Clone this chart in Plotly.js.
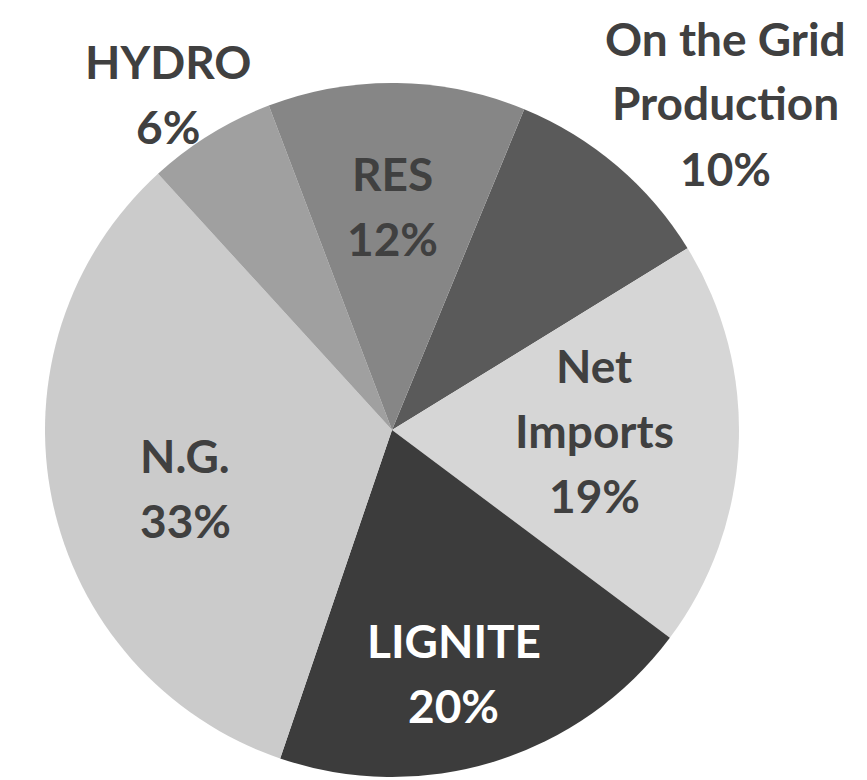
<!DOCTYPE html>
<html>
<head>
<meta charset="utf-8">
<script src="https://cdn.plot.ly/plotly-3.0.1.min.js"></script>
<style>html,body{margin:0;padding:0;background:#fff;}#chart{width:867px;height:780px;}</style>
</head>
<body>
<div id="chart"></div>
<script>
// Data (clockwise from the RES / On the Grid boundary)
const categories = ["On the Grid<br>Production", "Net<br>Imports", "LIGNITE", "N.G.", "HYDRO", "RES"];
const shares = [10, 19, 20, 33, 6, 12];
const percentLabels = ["10%", "19%", "20%", "33%", "6%", "12%"];

// Styles
const sliceColors = ["#5a5a5a", "#d6d6d6", "#3c3c3c", "#cbcbcb", "#a0a0a0", "#868686"];
const textColors = ["#404040", "#404040", "#ffffff", "#404040", "#404040", "#404040"];
// label block centres in pixels (layout only)
const labelPx = [[725, 103], [594, 430], [454, 673], [185, 488], [168, 94], [392, 206]];
const lineGap = 65;

const W = 867, H = 780;
const annotations = [];
categories.forEach((c, i) => {
  const lines = c.split("<br>").concat([percentLabels[i]]);
  const n = lines.length;
  lines.forEach((t, k) => {
    const py = labelPx[i][1] + (k - (n - 1) / 2) * lineGap;
    annotations.push({
      text: t,
      x: labelPx[i][0] / W, y: 1 - py / H,
      xref: "paper", yref: "paper", xanchor: "center", yanchor: "middle",
      showarrow: false, align: "center",
      font: {family: "Lato, 'Open Sans', sans-serif", size: 46, color: textColors[i], weight: 700}
    });
  });
});

const trace = {
  type: "pie",
  labels: categories,
  values: shares,
  sort: false,
  direction: "clockwise",
  rotation: 22.4,
  marker: {colors: sliceColors, line: {width: 0}},
  textinfo: "none",
  hoverinfo: "skip",
  showlegend: false,
  domain: {x: [45 / W, 739 / W], y: [1 - 777 / H, 1 - 83 / H]}
};

const layout = {
  width: W, height: H,
  margin: {l: 0, r: 0, t: 0, b: 0},
  paper_bgcolor: "#ffffff",
  showlegend: false,
  annotations: annotations
};

Plotly.newPlot("chart", [trace], layout, {displayModeBar: false, staticPlot: true});
</script>
</body>
</html>
